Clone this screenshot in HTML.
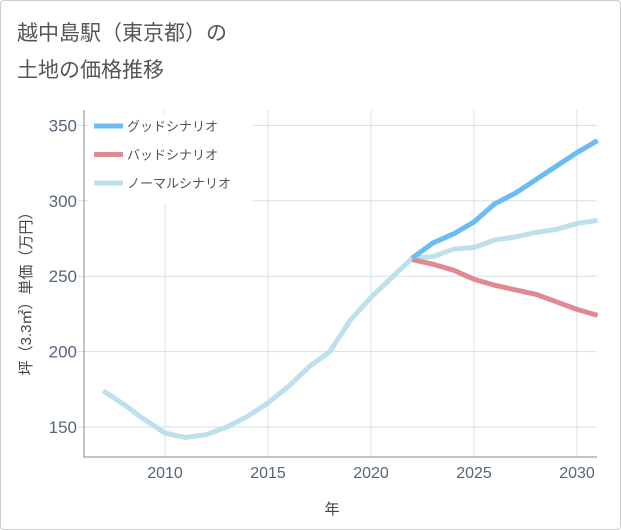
<!DOCTYPE html>
<html><head><meta charset="utf-8"><style>
body{margin:0;background:#fff;font-family:"Liberation Sans","Noto Sans CJK JP",sans-serif;}
#wrap{position:relative;width:619px;height:528px;border:1px solid #ccc;border-radius:4px;overflow:hidden;background:#fff}
</style></head><body>
<div id="wrap">
<svg id="chart" width="621" height="530" style="position:absolute;left:-1px;top:-1px">
<text x="17" y="40" font-size="21" fill="#555">越中島駅（東京都）の</text>
<text x="17" y="77" font-size="21" fill="#555">土地の価格推移</text>
<g id="grid"></g>
<g id="axes"></g>
<g id="series"></g>
<g id="legend"></g>
<text x="332" y="514" font-size="15" fill="#444" text-anchor="middle">年</text>
<text transform="translate(31,290) rotate(-90)" font-size="15" fill="#444" text-anchor="middle">坪（3.3㎡）単価（万円）</text>
</svg>
</div>
<script>
const years=[2007,2008,2009,2010,2011,2012,2013,2014,2015,2016,2017,2018,2019,2020,2021,2022,2023,2024,2025,2026,2027,2028,2029,2030,2031];
const normal=[174,165,155,146,143,145,150,157,166,177,190,200,221,236,249,262,263,268,269,274,276,279,281,285,287];
const goodYears=[2022,2023,2024,2025,2026,2027,2028,2029,2030,2031];
const good=[262,272,278,286,298,305,314,323,332,340];
const bad=[261,258,254,248,244,241,238,233,228,224];
const xTicks=[2010,2015,2020,2025,2030];
const yTicks=[150,200,250,300,350];
const X0=84,X1=597,Y0=110,Y1=457;
const xs=y=>165+(y-2010)*20.6;
const ys=v=>427-(v-150)*1.508;
const NS="http://www.w3.org/2000/svg";
function mk(t,a,p){const e=document.createElementNS(NS,t);for(const k in a)e.setAttribute(k,a[k]);p.appendChild(e);return e;}
const grid=document.getElementById('grid'),axes=document.getElementById('axes'),series=document.getElementById('series'),legend=document.getElementById('legend');
xTicks.forEach(t=>{
 const l=mk('line',{x1:xs(t),x2:xs(t),y1:Y0,y2:Y1,stroke:'#d5e0ea','stroke-width':1},grid);
 
 
 const tx=mk('text',{x:xs(t),y:478,'font-size':16,fill:'#556677','text-anchor':'middle'},axes);tx.textContent=t;
 
 
});
yTicks.forEach(t=>{
 const l=mk('line',{x1:X0-6,x2:X1,y1:ys(t),y2:ys(t),stroke:'#d5e0ea','stroke-width':1},grid);
 
 
 const tx=mk('text',{x:77,y:ys(t)+6,'font-size':17,fill:'#556677','text-anchor':'end'},axes);tx.textContent=t;
 
 
});
const ax=mk('path',{d:`M${X0},${Y0}V${Y1}H${X1}`,stroke:'#888',fill:'none','stroke-width':1},axes);


function line(xv,yv,color,name){
 const d=xv.map((y,i)=>(i?'L':'M')+xs(y)+','+ys(yv[i])).join('');
 const p=mk('path',{d:d,stroke:color,fill:'none','stroke-width':5,'stroke-linejoin':'round'},series);
 
 
}
line(years,normal,'#bde0ec','normal-scenario-line');
line(goodYears,bad,'#de8a90','bad-scenario-line');
line(goodYears,good,'#6bbcf3','good-scenario-line');
const bg=mk('rect',{x:88,y:114,width:165,height:90,fill:'#fff'},legend);


[['グッドシナリオ','#6bbcf3'],['バッドシナリオ','#de8a90'],['ノーマルシナリオ','#bde0ec']].forEach((e,i)=>{
 const y=126+i*28.5;
 const g=mk('g',{},legend);
 
 
 mk('line',{x1:94,x2:123,y1:y,y2:y,stroke:e[1],'stroke-width':5},g);
 const t=mk('text',{x:127,y:y+5,'font-size':13,fill:'#555'},g);t.textContent=e[0];
});
</script>
</body></html>
